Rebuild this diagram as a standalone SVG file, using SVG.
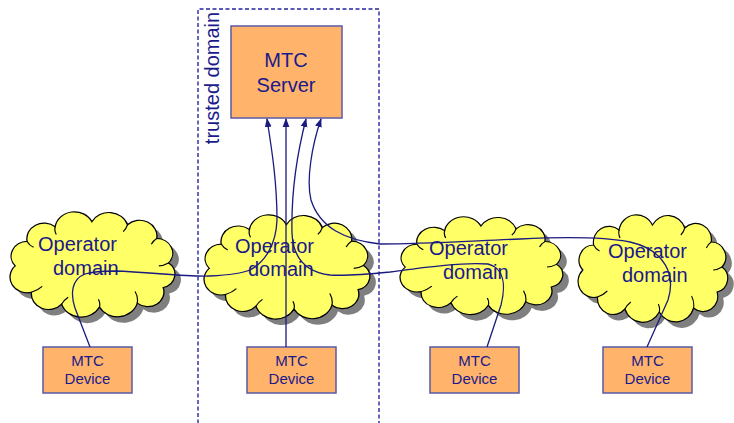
<svg xmlns="http://www.w3.org/2000/svg" width="734" height="423" viewBox="0 0 734 423">
<style>
.txt{font-family:"Liberation Sans",Arial,sans-serif;fill:#1a1a8a}
.big{font-size:20px}
.small{font-size:15px}
.box{fill:#FFB36B;stroke:#5a5aa8;stroke-width:1.5}
.cloud{fill:#FFFF66;stroke:#000;stroke-width:1.2}
.shadow{fill:#7f7f7f}
.inner{fill:none;stroke:#000;stroke-width:1.1}
.conn{fill:none;stroke:#1a1a80;stroke-width:1.3}
.dash{fill:none;stroke:#2626a0;stroke-width:1.4;stroke-dasharray:4,2.5}
</style>
<defs>
<marker id="arr" viewBox="0 0 10 10" refX="9" refY="5" markerWidth="9" markerHeight="9" markerUnits="userSpaceOnUse" orient="auto">
<path d="M0,1.2 L10,5 L0,8.8 z" fill="#1a1a80"/>
</marker>
<path id="cloudShape" d="M9,55 A15,15 0 0,1 20,30 A16,16 0 0,1 46,15 A18,18 0 0,1 80,10 A18,18 0 0,1 113,13 A16,16 0 0,1 140,27 A15,15 0 0,1 151,52 A14,14 0 0,1 146,77 A15,15 0 0,1 122,93 A19,19 0 0,1 87,97 A19,19 0 0,1 52,94 A16,16 0 0,1 24,82 A16,16 0 0,1 9,55 Z"/>
<path id="cloudInner" d="M20,30 q2,4 6,6 M46,15 q-1,4 1,8 M113,13 q-1,4 -4,7 M140,27 q-3,2 -5,6 M151,52 q-5,3 -9,3 M122,93 q1,-6 -2,-12 M87,97 q1,-4 -1,-8 M52,94 q2,-4 6,-7 M24,82 q6,-2 10,-6"/>
</defs>

<g id="trusted-domain">
<path class="dash" d="M198,430 V9 H379 V430"/>
<text class="txt big" transform="translate(219,78) rotate(-90)" text-anchor="middle">trusted domain</text>
</g>

<g id="cloud1">
<g transform="translate(11.5,218) scale(1.08,0.98)"><use href="#cloudShape" class="shadow"/></g>
<g transform="translate(5.5,212) scale(1.08,0.98)"><use href="#cloudShape" class="cloud"/><use href="#cloudInner" class="inner"/></g>
<text class="txt big" x="38" y="251">Operator</text>
<text class="txt big" x="53" y="275">domain</text>
</g>

<g id="cloud2">
<g transform="translate(205.5,221) scale(1.086,0.97)"><use href="#cloudShape" class="shadow"/></g>
<g transform="translate(199.5,215) scale(1.086,0.97)"><use href="#cloudShape" class="cloud"/><use href="#cloudInner" class="inner"/></g>
<text class="txt big" x="235" y="253">Operator</text>
<text class="txt big" x="248" y="276">domain</text>
</g>

<g id="cloud3">
<g transform="translate(401.6,223) scale(1.066,0.91)"><use href="#cloudShape" class="shadow"/></g>
<g transform="translate(395.6,217) scale(1.066,0.91)"><use href="#cloudShape" class="cloud"/><use href="#cloudInner" class="inner"/></g>
<text class="txt big" x="429" y="255">Operator</text>
<text class="txt big" x="443" y="279">domain</text>
</g>

<g id="cloud4">
<g transform="translate(580,221) scale(0.98,1.0)"><use href="#cloudShape" class="shadow"/></g>
<g transform="translate(574,215) scale(0.98,1.0)"><use href="#cloudShape" class="cloud"/><use href="#cloudInner" class="inner"/></g>
<text class="txt big" x="608" y="258">Operator</text>
<text class="txt big" x="622" y="282">domain</text>
</g>

<g id="server">
<rect class="box" x="231" y="26" width="111" height="92"/>
<text class="txt big" x="286" y="67" text-anchor="middle">MTC</text>
<text class="txt big" x="286" y="92" text-anchor="middle">Server</text>
</g>

<g id="device1">
<rect class="box" x="43" y="347" width="89" height="46"/>
<text class="txt small" x="87.5" y="366" text-anchor="middle">MTC</text>
<text class="txt small" x="87.5" y="384" text-anchor="middle">Device</text>
</g>
<g id="device2">
<rect class="box" x="247" y="347" width="89" height="46"/>
<text class="txt small" x="291.5" y="366" text-anchor="middle">MTC</text>
<text class="txt small" x="291.5" y="384" text-anchor="middle">Device</text>
</g>
<g id="device3">
<rect class="box" x="430" y="347" width="89" height="46"/>
<text class="txt small" x="474.5" y="366" text-anchor="middle">MTC</text>
<text class="txt small" x="474.5" y="384" text-anchor="middle">Device</text>
</g>
<g id="device4">
<rect class="box" x="603" y="347" width="89" height="46"/>
<text class="txt small" x="647.5" y="366" text-anchor="middle">MTC</text>
<text class="txt small" x="647.5" y="384" text-anchor="middle">Device</text>
</g>

<g id="connectors">
<path class="conn" marker-end="url(#arr)" d="M90,347 L75,308 C70,293 72,279 85,274 C95,271 105,271 115,271 C150,272 185,277 210,276 C230,275 243,273 250,270 C265,262 276,245 277,220 C277,180 271,145 267,119"/>
<path class="conn" marker-end="url(#arr)" d="M286,347 L286,119"/>
<path class="conn" marker-end="url(#arr)" d="M487,347 L501,305 C506,285 504,268 488,264 C460,262 420,268 390,272 C370,274 345,276 330,275 C305,272 293,258 292,233 C291,190 298,150 306,119"/>
<path class="conn" marker-end="url(#arr)" d="M647,347 L668,300 C676,275 665,250 630,242 C600,236 560,237 520,239 C470,241 420,244 380,244 C345,240 320,228 311,200 C306,180 312,145 321,119"/>
</g>
</svg>
